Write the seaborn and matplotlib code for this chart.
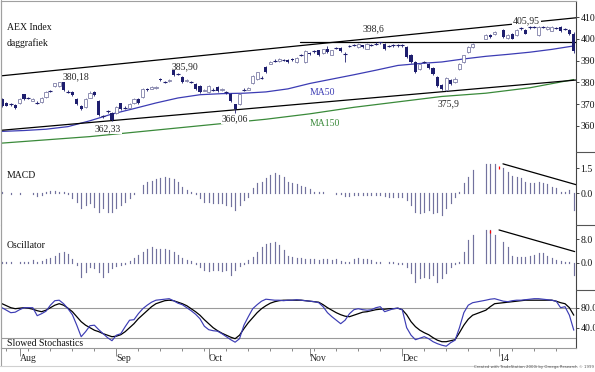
import matplotlib
matplotlib.use("Agg")
import matplotlib.pyplot as plt
import seaborn as sns
import numpy as np
import pandas as pd
from matplotlib.lines import Line2D

nan = np.nan

# trading-day index, 0 = 26 Jul 2013 (holidays left blank)
days = list(range(131))

opens = [372.5, 370.6, 369.8, 369.5, 370.3, 374.5, 372.6, 371.6, 370.6, 371.0,
         373.4, 376.0, 378.1, 378.4, 380.0, 375.6, 375.6, 372.5, 369.3, 368.7,
         372.9, 375.6, 371.4, 364.3, 366.7, 366.0, 366.0, 370.3, 368.3, 368.3,
         370.3, 372.2, 373.4, 377.0, 377.1, 377.3, 381.6, 380.2, 380.4, 385.7,
         383.8, 382.3, 380.6, 380.2, 379.2, 378.5, 376.1, 375.6, 376.6, 377.9,
         376.5, 375.4, 374.5, 369.8, 369.8, 376.6, 376.6, 379.6, 381.5, 382.0,
         387.0, 388.6, 390.0, 389.8, 390.3, 390.5, 390.8, 389.3, 392.7, 389.3,
         393.6, 394.3, 394.7, 393.6, 395.5, 392.7, 395.8, 395.8, 393.2, 396.8,
         397.2, 396.3, 397.0, 395.5, 397.2, 397.9, 398.4, 397.9, 396.8, 397.0,
         397.0, 397.0, 396.3, 392.7, 389.3, 386.2, 389.3, 388.5, 386.5, 382.3,
         378.7, 376.5, 381.0, 380.0, 386.2, 389.3, 394.0, 396.3, nan, nan,
         400.2, 401.7, 402.2, nan, 404.1, 400.4, 402.2, 401.7, 404.9, 404.1,
         405.3, 405.6, 401.7, 405.5, 404.6, 403.8, 405.0, 405.4, 404.6, 404.0, 402.5]
closes = [369.0, 369.3, 369.8, 368.3, 372.2, 372.4, 372.6, 372.4, 370.6, 373.0,
          375.6, 376.0, 379.5, 380.0, 376.5, 375.6, 374.0, 369.8, 367.8, 372.5,
          375.3, 374.0, 365.1, 364.3, 366.7, 362.8, 368.7, 367.5, 368.3, 370.0,
          372.2, 370.6, 377.1, 376.4, 377.9, 378.0, 380.9, 380.2, 381.1, 383.5,
          383.8, 380.2, 381.2, 380.2, 376.8, 375.6, 376.7, 378.5, 376.6, 375.9,
          377.0, 375.4, 371.4, 367.5, 374.5, 376.6, 377.4, 383.0, 384.6, 382.0,
          384.6, 389.6, 390.0, 390.8, 390.3, 389.5, 390.2, 391.2, 392.7, 394.3,
          393.0, 394.3, 392.4, 395.2, 394.0, 394.7, 395.8, 394.3, 393.2, 396.8,
          397.2, 397.9, 396.3, 397.9, 397.2, 397.9, 398.4, 395.2, 396.8, 397.0,
          397.0, 397.0, 391.6, 389.3, 384.6, 388.5, 389.3, 386.6, 383.8, 378.4,
          376.8, 382.0, 379.2, 381.6, 388.5, 392.4, 396.3, 397.9, nan, nan,
          401.7, 400.7, 403.3, nan, 401.0, 401.7, 400.2, 404.1, 404.9, 402.5,
          405.3, 405.6, 405.5, 405.5, 405.4, 405.6, 405.0, 403.6, 404.6, 402.3, 394.5]
highs = [373.0, 371.0, 370.4, 369.9, 372.6, 374.8, 373.1, 372.8, 371.2, 373.4,
         376.0, 376.5, 379.9, 380.18, 380.1, 376.3, 376.0, 372.9, 369.7, 372.9,
         375.8, 376.2, 371.8, 365.0, 367.3, 366.4, 369.1, 370.7, 368.9, 370.4,
         372.6, 372.6, 377.5, 377.4, 378.3, 378.4, 382.0, 380.8, 381.5, 385.9,
         384.4, 382.7, 381.6, 380.8, 379.6, 378.9, 377.1, 378.9, 377.2, 378.3,
         377.4, 376.0, 374.9, 370.2, 374.9, 377.2, 377.8, 383.4, 385.0, 383.0,
         387.4, 390.0, 390.6, 391.2, 390.9, 390.9, 391.2, 391.6, 393.3, 394.7,
         394.0, 394.9, 395.1, 395.6, 396.6, 395.1, 396.4, 396.2, 393.8, 397.4,
         397.8, 398.3, 397.4, 398.3, 397.8, 398.4, 398.6, 398.3, 397.4, 397.6,
         397.6, 397.6, 396.7, 393.1, 389.7, 388.9, 389.9, 388.9, 386.9, 382.7,
         379.1, 382.4, 381.4, 382.4, 388.9, 392.8, 396.7, 398.3, nan, nan,
         402.1, 402.1, 403.7, nan, 404.5, 402.1, 402.6, 404.5, 405.4, 404.5,
         405.8, 405.9, 405.9, 405.95, 405.8, 405.9, 405.6, 405.8, 405.2, 404.4, 403.0]
lows = [368.6, 368.9, 369.2, 367.9, 370.0, 372.0, 372.1, 371.2, 370.0, 370.7,
        373.0, 375.5, 377.8, 378.0, 376.0, 375.1, 373.6, 369.4, 367.3, 368.3,
        372.6, 373.6, 364.7, 363.6, 366.0, 362.33, 365.6, 367.1, 367.7, 368.0,
        370.0, 370.2, 373.0, 376.0, 376.8, 377.0, 380.5, 379.7, 380.1, 383.1,
        383.2, 379.8, 380.3, 379.6, 376.4, 375.2, 375.8, 375.3, 376.0, 375.5,
        376.2, 374.8, 371.0, 366.06, 369.4, 376.0, 376.3, 379.3, 381.2, 381.6,
        384.2, 388.3, 389.5, 389.5, 389.8, 389.1, 389.8, 389.0, 392.1, 389.0,
        392.6, 393.7, 392.0, 393.3, 393.6, 392.4, 395.2, 393.9, 389.3, 396.2,
        396.6, 396.0, 395.9, 395.2, 396.6, 397.3, 397.8, 394.8, 396.2, 396.4,
        396.4, 396.4, 391.2, 388.9, 384.2, 385.8, 388.7, 386.2, 383.4, 378.0,
        376.4, 375.9, 378.8, 379.7, 385.9, 389.0, 393.7, 396.0, nan, nan,
        399.9, 400.3, 401.9, nan, 400.6, 400.1, 399.8, 401.4, 404.3, 402.1,
        404.7, 405.0, 401.4, 405.0, 404.3, 403.5, 404.4, 403.2, 404.0, 401.9, 393.6]

ma50_day = [0, 5, 10, 15, 20, 25, 30, 35, 40, 45, 50, 55, 60, 65, 70, 75, 80,
            85, 90, 95, 100, 105, 110, 115, 120, 125, 130]
ma50 = [357.4, 357.8, 358.4, 359.6, 362.3, 365.4, 367.9, 370.5, 372.8, 374.3,
        374.8, 375.0, 375.6, 377.0, 379.5, 381.5, 383.5, 385.6, 387.8, 388.7,
        389.4, 390.8, 392.0, 392.9, 393.9, 395.2, 396.8]
ma150_day = [0, 10, 20, 30, 40, 50, 60, 70, 80, 90, 100, 110, 120, 130]
ma150 = [352.0, 353.5, 355.0, 357.0, 359.0, 361.0, 363.0, 365.5, 368.5, 371.0,
         373.5, 375.0, 377.5, 381.3]

# drawn trend lines (day, value)
upper_day, upper_val = [-0.23, 130.7], [383.0, 409.8]
lower_day, lower_val = [-0.23, 130.7], [357.9, 381.1]
resist_day, resist_val = [67.7, 130.7], [398.6, 398.6]

macd = [0.05, 0.03, -0.03, 0.02, -0.02, 0.03, 0.02, -0.05, -0.15, -0.08,
        0.05, 0.12, 0.15, 0.1, 0.05, -0.03, -0.3, -0.5, -0.9, -0.7,
        -0.6, -0.8, -1.1, -0.9, -1.1, -1.1, -0.9, -0.7, -0.5, -0.3,
        -0.05, 0.03, 0.5, 0.7, 0.75, 0.85, 0.9, 0.95, 0.9, 0.85,
        0.7, 0.4, 0.2, 0.05, -0.05, -0.3, -0.5, -0.5, -0.6, -0.6,
        -0.6, -0.7, -0.75, -1.0, -0.7, -0.4, -0.2, 0.3, 0.6, 0.7,
        0.9, 1.1, 1.2, 1.1, 1.0, 0.7, 0.6, 0.55, 0.45, 0.35,
        0.25, 0.1, 0.05, 0.05, 0.03, 0.02, -0.02, -0.03, -0.15, -0.15,
        -0.1, -0.1, -0.08, -0.1, -0.12, -0.12, -0.1, -0.15, -0.2, -0.2,
        -0.2, -0.25, -0.4, -0.7, -1.1, -1.2, -1.1, -1.0, -1.2, -1.1,
        -1.3, -0.9, -0.6, -0.2, 0.1, 0.6, 1.0, 1.4, nan, nan,
        1.75, 1.75, 1.75, nan, 1.5, 1.25, 1.05, 1.0, 0.9, 0.7,
        0.6, 0.6, 0.65, 0.6, 0.55, 0.4, 0.3, 0.05, 0.05, 0.2, -1.0]
macd_trend_day, macd_trend_val = [113.9, 130.7], [1.76, 0.5]
macd_flag_day, macd_flag_lo, macd_flag_hi = [113], [1.45], [1.62]

osc = [0.2, 0.3, 0.2, -0.2, 0.3, 0.3, 0.4, 0.9, 0.4, 0.5,
       1.2, 1.6, 2.2, 3.4, 3.8, 3.0, 1.4, -0.8, -4.8, -3.1,
       -1.4, -1.9, -3.1, -4.8, -3.1, -1.9, -1.2, -0.8, -0.3, 0.5,
       1.5, 2.6, 3.8, 4.6, 5.5, 4.8, 4.6, 4.6, 4.3, 3.8,
       2.6, 1.5, 1.0, 0.5, -0.5, -1.5, -2.5, -3.0, -2.6, -2.6,
       -3.0, -2.6, -4.2, -2.6, -1.0, -0.3, 0.8, 2.0, 3.8, 5.5,
       6.4, 6.6, 7.2, 6.0, 4.3, 2.3, 2.0, 1.5, 1.6, 1.4,
       1.2, 1.3, 1.0, 1.4, 1.2, 1.0, 1.3, 0.6, 0.3, 0.1,
       1.2, 1.5, 1.4, 1.2, 0.8, 0.3, 0.2, -0.2, 0.3, 0.2,
       -0.3, -0.3, -1.5, -3.6, -6.5, -5.4, -4.8, -5.4, -4.2, -6.5,
       -5.4, -3.6, -1.4, -0.5, 0.3, 3.8, 7.8, 9.5, nan, nan,
       11.2, 11.2, 9.5, nan, 7.2, 5.5, 2.3, 2.0, 2.0, 2.0,
       2.3, 2.6, 3.2, 3.2, 2.3, 1.5, 1.0, 0.5, 0.3, 0.3, -4.2]
osc_trend_day, osc_trend_val = [113.0, 130.2], [11.2, 3.8]
osc_flag_day, osc_flag_lo, osc_flag_hi = [111], [10.3], [11.2]

stoch_k = [80, 75, 70, 71, 76, 80, 80, 80, 64, 68,
           73, 85, 94, 95, 88, 78, 66, 45, 22, 32,
           44, 45, 36, 28, 20, 14, 25, 28, 42, 55,
           56, 68, 78, 85, 91, 95, 96, 97, 98, 94,
           89, 86, 80, 74, 67, 58, 43, 36, 34, 33,
           28, 22, 16, 11, 18, 45, 62, 78, 86, 93,
           97, 96, 95, 95, 94, 95, 95, 96, 95, 94,
           93, 92, 90, 82, 70, 62, 55, 48, 55, 68,
           76, 78, 76, 75, 76, 80, 82, 72, 75, 78,
           79, 76, 40, 25, 16, 19, 22, 18, 12, 8,
           5, 3, 10, 15, 40, 70, 85, 90, nan, nan,
           95, 97, 98, nan, 93, 92, 94, 95, 95, 96,
           97, 98, 98, 97, 96, 95, 93, 80, 82, 65, 35]
stoch_d = [88, 84, 80, 78, 79, 80, 79, 77, 74, 72,
           75, 80, 85, 88, 85, 79, 72, 62, 52, 45,
           40, 35, 32, 28, 25, 22, 23, 26, 32, 40,
           48, 58, 66, 74, 82, 88, 91, 94, 95, 94,
           91, 88, 84, 78, 72, 65, 56, 48, 40, 34,
           29, 25, 21, 18, 25, 38, 50, 60, 70, 78,
           84, 89, 92, 94, 95, 95, 95, 95, 95, 94,
           93, 92, 91, 86, 80, 75, 70, 66, 63, 62,
           65, 68, 71, 72, 74, 76, 77, 77, 78, 78,
           79, 76, 66, 52, 42, 35, 30, 26, 20, 15,
           12, 12, 14, 16, 30, 45, 57, 65, nan, nan,
           75, 82, 88, nan, 90, 91, 92, 93, 94, 95,
           95, 95, 95, 95, 95, 95, 93, 90, 88, 80, 65]

month_day = [4, 26, 47, 70, 91, 113]
month_lab = ["Aug", "Sep", "Oct", "Nov", "Dec", "14"]
week_day = [1, 6, 11, 16, 21, 31, 36, 41, 46, 51, 56, 61, 66, 71, 76, 81, 86,
            96, 101, 106, 111, 116, 121, 126]

NAVY = "#1e1e6e"
HOLLOW = "#8080a8"
BLUE = "#3c3cb4"
GREEN = "#3a8a3a"
HIST = "#72729e"
FS = 7

sns.set_style("white")
plt.rcParams["font.family"] = ["Liberation Serif", "DejaVu Serif"]

W, H = 595, 372
fig = plt.figure(figsize=(W / 100, H / 100), dpi=100)


def box(top, bottom):
    return [1 / W, 1 - bottom / H, 575 / W, (bottom - top) / H]


ax1 = fig.add_axes(box(1, 152))
ax2 = fig.add_axes(box(152, 225))
ax3 = fig.add_axes(box(225, 290))
ax4 = fig.add_axes(box(290, 348.3))

# price candles
px = pd.DataFrame({"day": days, "open": opens, "high": highs,
                   "low": lows, "close": closes}).dropna()
up = px[px.close > px.open]
dn = px[px.close <= px.open]
dj = px[px.close == px.open]
ax1.vlines(up.day, up.low, up.high, color=HOLLOW, lw=0.6, zorder=3)
ax1.vlines(dn.day, dn.low, dn.high, color=NAVY, lw=0.6, zorder=3)
ax1.bar(up.day, up.close - up.open, bottom=up.open, width=0.72,
        facecolor="white", edgecolor=HOLLOW, linewidth=0.6, zorder=4)
dnb = dn[dn.close < dn.open]
ax1.bar(dnb.day, dnb.open - dnb.close, bottom=dnb.close, width=0.72,
        color=NAVY, linewidth=0, zorder=4)
ax1.hlines(dj.close, dj.day - 0.45, dj.day + 0.45, color=NAVY, lw=0.8, zorder=4)

sns.lineplot(x=ma50_day, y=ma50, ax=ax1, color=BLUE, lw=0.9, zorder=2)
sns.lineplot(x=ma150_day, y=ma150, ax=ax1, color=GREEN, lw=0.9, zorder=2)
for xs, ys in [(upper_day, upper_val), (lower_day, lower_val), (resist_day, resist_val)]:
    ax1.plot(xs, ys, color="black", lw=0.9, zorder=2)

lab = dict(fontsize=FS, ha="center", va="center", zorder=6)
wbox = dict(facecolor="white", edgecolor="none", pad=0.6)
ax1.text(16.8, 382.6, "380,18", **lab)
ax1.text(41.6, 387.2, "385,90", **lab)
ax1.text(24.0, 358.8, "362,33", bbox=wbox, **lab)
ax1.text(53.0, 363.1, "366,06", bbox=wbox, **lab)
ax1.text(84.5, 404.5, "398,6", **lab)
ax1.text(101.6, 370.0, "375,9", **lab)
ax1.text(119.3, 408.3, "405,95", bbox=wbox, **lab)
ax1.text(72.8, 375.3, "MA50", color=BLUE, **lab)
ax1.text(73.4, 361.2, "MA150", color=GREEN, **lab)
ax1.set_ylim(347.9, 417.5)
ax1.set_yticks([360, 370, 380, 390, 400, 410])
ax1.set_yticklabels(["360", "370", "380", "390", "400", "410"])

# MACD and oscillator histograms
ind = pd.DataFrame({"day": days, "macd": macd, "osc": osc})
m = ind.dropna(subset=["macd"])
o = ind.dropna(subset=["osc"])
ax2.vlines(m.day, 0, m.macd, color=HIST, lw=0.85, capstyle="projecting")
ax2.plot(macd_trend_day, macd_trend_val, color="black", lw=0.9)
ax2.vlines(macd_flag_day, macd_flag_lo, macd_flag_hi, color="red", lw=0.9)
ax2.set_ylim(-1.9, 2.47)
ax2.set_yticks([0, 1.5])
ax2.set_yticklabels(["0.0", "1.5"])

ax3.vlines(o.day, 0, o.osc, color=HIST, lw=0.85, capstyle="projecting")
ax3.plot(osc_trend_day, osc_trend_val, color="black", lw=0.9)
ax3.vlines(osc_flag_day, osc_flag_lo, osc_flag_hi, color="red", lw=0.9)
ax3.set_ylim(-9.35, 12.9)
ax3.set_yticks([0, 8])
ax3.set_yticklabels(["0.0", "8.0"])

# slowed stochastics
st = pd.DataFrame({"day": days, "k": stoch_k, "d": stoch_d}).dropna()
ax4.axhline(80, color="#9a9a9a", lw=0.8)
ax4.axhline(20, color="#9a9a9a", lw=0.8)
sns.lineplot(data=st, x="day", y="d", ax=ax4, color="black", lw=0.9)
sns.lineplot(data=st, x="day", y="k", ax=ax4, color=BLUE, lw=0.85)
ax4.set_ylim(-1.2, 115.4)
ax4.set_yticks([40, 80])
ax4.set_yticklabels(["40.0", "80.0"])

for ax in (ax1, ax2, ax3, ax4):
    ax.set_xlim(-0.23, 130.5)
    ax.set_xlabel("")
    ax.set_ylabel("")
    ax.yaxis.tick_right()
    ax.tick_params(axis="y", right=True, left=False, labelright=True,
                   labelleft=False, direction="out", length=2.4, width=0.7,
                   pad=0.8, labelsize=FS, color="#444", labelcolor="#111")
    ax.tick_params(axis="x", bottom=False, labelbottom=False)
    for side in ("top", "bottom"):
        ax.spines[side].set_visible(False)
    ax.spines["left"].set_color("#a0a0a0")
    ax.spines["left"].set_linewidth(0.8)
    ax.spines["right"].set_color("#444444")
    ax.spines["right"].set_linewidth(0.8)
    ax.set_facecolor("white")

ax1.spines["top"].set_visible(True)
ax1.spines["top"].set_color("#a0a0a0")
ax4.spines["bottom"].set_visible(True)
ax4.spines["bottom"].set_color("#999999")
ax4.spines["bottom"].set_linewidth(0.8)

ax4.set_xticks(month_day)
ax4.set_xticklabels(month_lab, ha="left")
ax4.set_xticks(week_day, minor=True)
ax4.tick_params(axis="x", which="major", bottom=True, labelbottom=True,
                direction="out", length=5.6, width=0.7, color="#888",
                pad=-1.5, labelsize=FS)
ax4.tick_params(axis="x", which="minor", bottom=True, direction="out",
                length=2.4, width=0.7, color="#888")

# panel captions
cap = dict(fontsize=FS, ha="left", va="center", color="#111")
fig.text(7 / W, 1 - 28 / H, "AEX Index", **cap)
fig.text(7 / W, 1 - 43 / H, "daggrafiek", **cap)
fig.text(7 / W, 1 - 175 / H, "MACD", **cap)
fig.text(7 / W, 1 - 246 / H, "Oscillator", **cap)
fig.text(7 / W, 1 - 344 / H, "Slowed Stochastics", **cap)
fig.text(0.998, 1 - 367 / H, "Created with TradeStation 2000i by Omega Research \u00a9 1999",
         ha="right", va="center", fontsize=2.8, color="#555",
         family="DejaVu Sans")

# separators on the price scale and frame bits
for yy in (152, 225, 290):
    fig.add_artist(Line2D([576 / W, 1], [1 - yy / H] * 2, color="#555", lw=0.8))
fig.add_artist(Line2D([1 / W, 1 / W], [1 - 366 / H, 1], color="#a0a0a0", lw=0.8))
fig.add_artist(Line2D([0, 576 / W], [1 - 366 / H] * 2, color="#d0d0d0", lw=0.8))

fig.savefig("out.png", dpi=100)
